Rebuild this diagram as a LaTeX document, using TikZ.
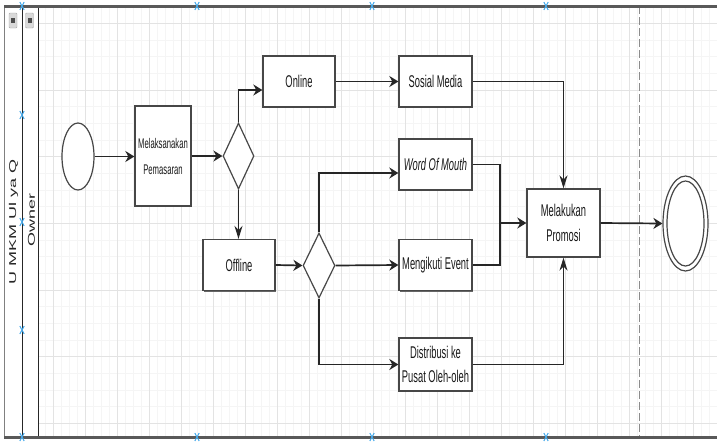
\documentclass[tikz,border=0pt]{standalone}
\usepackage{graphicx}
\usepackage{fontspec}
\setmainfont{Liberation Sans}[FakeStretch=0.55]
\newfontfamily\lanefont{Liberation Sans}
\usetikzlibrary{shapes.geometric,arrows.meta,shadows}
\definecolor{markblue}{RGB}{70,170,235}
\tikzset{
 box/.style={draw=black!72, line width=1.3pt, fill=white, minimum width=72pt, minimum height=51pt,
   inner sep=0pt, align=center, font=\fontsize{17}{25}\selectfont, text=black!90,
   drop shadow={shadow xshift=0.5pt, shadow yshift=-1.3pt, fill=black!60, opacity=1}},
 gate/.style={diamond, draw=black!72, line width=1.2pt, fill=white, minimum width=31pt, minimum height=66pt, inner sep=0pt},
 terminal/.style={ellipse, draw=black!72, line width=1.2pt, fill=white, inner sep=0pt},
 flow/.style={draw=black!85, line width=1.7pt},
 harrow/.style={flow, -{Stealth[length=9pt,width=11pt]}},
 varrow/.style={flow, -{Stealth[length=13pt,width=8pt]}},
 gridminor/.style={draw=black!4, line width=0.6pt},
 gridmajor/.style={draw=black!11, line width=0.8pt},
 marker/.style={draw=markblue, line width=1pt},
 lanetext/.style={rotate=90, inner sep=0pt, text=black!85},
}
\begin{document}
\begin{tikzpicture}[x=1pt,y=-1pt]
\useasboundingbox (0,0) rectangle (717,445);
% grid
\begin{scope}
\clip (38,6) rectangle (717,437);
\foreach \k in {0,...,87} {\draw[gridminor] ({21.333+8*\k},6) -- ({21.333+8*\k},437);}
\foreach \k in {0,...,25} {\draw[gridminor] (38,{23.333+16.667*\k}) -- (717,{23.333+16.667*\k});}
\foreach \k in {0,...,22} {\draw[gridmajor] ({21.333+32*\k},6) -- ({21.333+32*\k},437);}
\foreach \k in {0,...,6} {\draw[gridmajor] (38,{23.333+66.667*\k}) -- (717,{23.333+66.667*\k});}
\end{scope}
% dashed boundary
\draw[black!45, line width=0.8pt, dash pattern=on 8pt off 3pt] (639,6) -- (639,437);
% lane lines
\draw[black!50, line width=0.8pt] (4.5,6) -- (4.5,437);
\draw[black!85, line width=1pt] (22,6) -- (22,437);
\draw[black!85, line width=0.8pt] (38,6) -- (38,437);
% top and bottom borders
\draw[black!65, line width=3pt] (4,6) -- (717,6);
\draw[black!65, line width=3pt] (4,437) -- (717,437);
% lane icons
\foreach \x in {13,29.5} {
 \draw[gray!70, fill=gray!30, rounded corners=1pt] (\x-4,13) rectangle (\x+4,28);
 \fill[black!70] (\x-2,18) rectangle (\x+2,23);
}
% blue markers
\foreach \x/\y in {22/6,197/6,372/6,546/6,22/437,197/437,372/437,546/437,22/115,22/222,22/330} {
 \draw[marker] (\x-2.2,\y-4) -- (\x+2.2,\y+4);
 \draw[marker] (\x-2.2,\y+4) -- (\x+2.2,\y-4);
}
% lane labels
\node[lanetext] (pool) at (13.5,222) {\scalebox{1}[0.55]{\lanefont\fontsize{18}{20}\selectfont U MKM Ul ya Q}};
\node[lanetext] (lane) at (31.5,220) {\scalebox{1}[0.55]{\lanefont\fontsize{18}{20}\selectfont Owner}};
% nodes
\node[terminal, minimum width=32pt, minimum height=67pt] (start) at (78,156.5) {};
\node[box, minimum width=56pt, minimum height=100pt, font=\fontsize{14}{26}\selectfont] (exec) at (163,156) {Melaksanakan\\Pemasaran};
\node[gate] (d1) at (238.5,156) {};
\node[box] (online) at (299,81.5) {Online};
\node[box, minimum width=73pt] (sosmed) at (435.5,81.5) {Sosial Media};
\node[box, minimum width=73pt] (wom) at (435.5,164.5) {\itshape Word Of Mouth};
\node[box] (offline) at (239,265) {Offline};
\node[gate, minimum width=32pt, minimum height=65pt] (d2) at (319,265.5) {};
\node[box, minimum width=73pt] (event) at (435.5,265) {Mengikuti Event};
\node[box, minimum width=73pt, minimum height=53pt, font=\fontsize{17}{24}\selectfont] (distr) at (435.5,364.5) {Distribusi ke\\Pusat Oleh-oleh};
\node[box, minimum width=73pt, minimum height=68pt] (promo) at (563.5,223) {Melakukan\\Promosi};
\node[terminal, minimum width=45pt, minimum height=95pt] (finish) at (685.5,223.5) {};
\node[terminal, minimum width=37pt, minimum height=85pt] (finishin) at (finish.center) {};
% connectors
\draw[harrow] (start.east) -- (exec.west |- start.east);
\draw[harrow] (exec.east) -- (d1.west);
\draw[harrow] (d1.north) |- ([yshift=-8.5pt]online.west);
\draw[varrow] (d1.south) -- (d1.south |- offline.north);
\draw[harrow] (online.east) -- (sosmed.west);
\draw[varrow] (sosmed.east) -| (promo.north);
\draw[harrow] (offline.east) -- (d2.west);
\draw[harrow] (d2.north) |- ([yshift=-8.5pt]wom.west);
\draw[harrow] (d2.east) -- (event.west);
\draw[harrow] (d2.south) |- (distr.west);
\coordinate (merge) at (500,223);
\draw[flow] (wom.east) -| (merge);
\draw[flow] (event.east) -| (merge);
\draw[harrow] (merge) -- (promo.west);
\draw[varrow] (distr.east) -| (promo.south);
\draw[harrow] (promo.east) -- (finish.west);
\end{tikzpicture}
\end{document}
